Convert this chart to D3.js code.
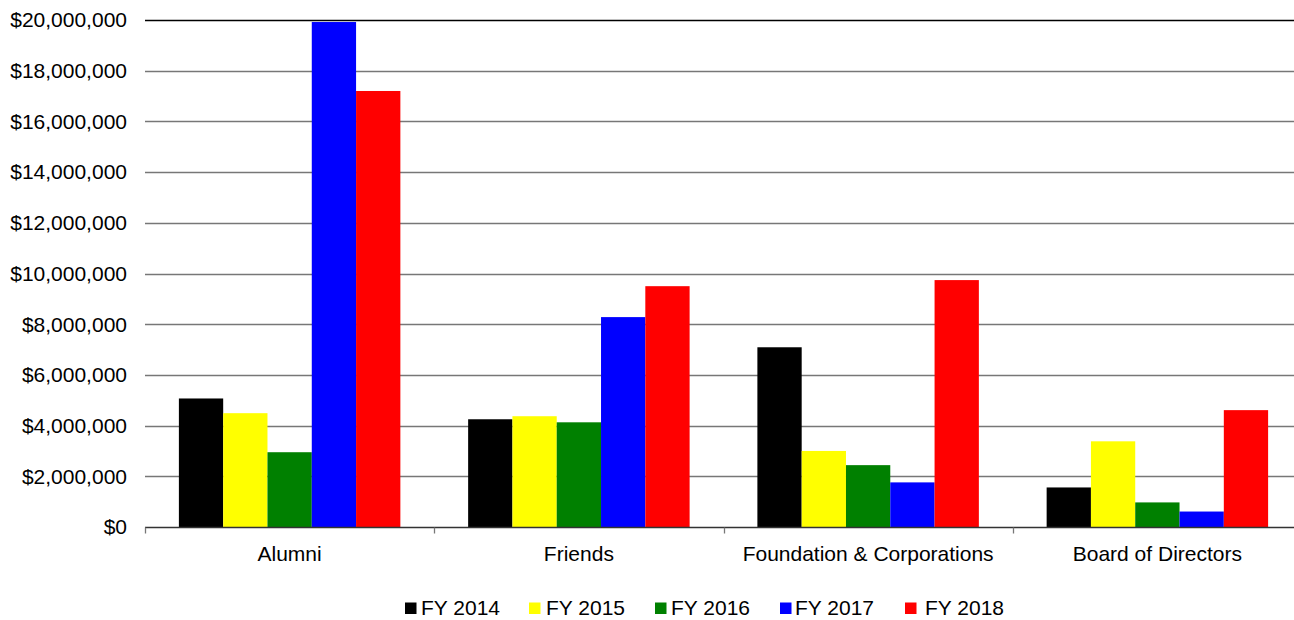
<!DOCTYPE html>
<html>
<head>
<meta charset="utf-8">
<script src="https://cdn.jsdelivr.net/npm/d3@7"></script>
<style>
  body { margin: 0; background: #fff; }
  text { font-family: "Liberation Sans", Arial, sans-serif; fill: #000; }
</style>
</head>
<body>
<div id="chart"></div>
<script>
// data
var categories = ["Alumni", "Friends", "Foundation & Corporations", "Board of Directors"];
var seriesNames = ["FY 2014", "FY 2015", "FY 2016", "FY 2017", "FY 2018"];
var seriesColors = ["#000000", "#ffff00", "#008000", "#0000ff", "#ff0000"];
var fy2014 = [5070000, 4250000, 7090000, 1560000];
var fy2015 = [4490000, 4370000, 3000000, 3380000];
var fy2016 = [2950000, 4130000, 2440000, 970000];
var fy2017 = [19920000, 8280000, 1760000, 610000];
var fy2018 = [17200000, 9500000, 9740000, 4610000];
var yTicks = [0, 2000000, 4000000, 6000000, 8000000, 10000000, 12000000, 14000000, 16000000, 18000000, 20000000];

var seriesValues = [fy2014, fy2015, fy2016, fy2017, fy2018];

var width = 1294, height = 620;
var margin = { top: 20, left: 145, bottom: 93 };
var plotRight = 1302;

var svg = d3.select("#chart").append("svg")
    .attr("width", width)
    .attr("height", height);

// scales
var x0 = d3.scaleBand()
    .domain(categories)
    .range([margin.left, plotRight])
    .paddingInner(0)
    .paddingOuter(0);

var x1 = d3.scaleBand()
    .domain(seriesNames)
    .range([0, x0.bandwidth()])
    .paddingOuter(0.765)
    .paddingInner(0);

var y = d3.scaleLinear()
    .domain([0, 20000000])
    .range([height - margin.bottom, margin.top]);

var fmt = function(v){ return "$" + d3.format(",")(v); };

// gridlines
svg.append("g").selectAll("line.grid")
    .data(yTicks.filter(function(d){ return d > 0; }))
    .enter().append("line")
    .attr("class", "grid")
    .attr("x1", margin.left)
    .attr("x2", plotRight)
    .attr("y1", function(d){ return Math.round(y(d)) + 0.5; })
    .attr("y2", function(d){ return Math.round(y(d)) + 0.5; })
    .attr("stroke", function(d){ return d === 20000000 ? "#000" : "#777"; })
    .attr("stroke-width", 1.3);

// y labels
svg.append("g").selectAll("text.ylab")
    .data(yTicks)
    .enter().append("text")
    .attr("class", "ylab")
    .attr("x", 127)
    .attr("y", function(d){ return y(d); })
    .attr("dy", "0.35em")
    .attr("text-anchor", "end")
    .style("font-size", "21px")
    .text(fmt);

// bars
var groups = svg.append("g").selectAll("g.cat")
    .data(categories)
    .enter().append("g")
    .attr("class", "cat")
    .attr("transform", function(d){ return "translate(" + x0(d) + ",0)"; });

groups.selectAll("rect")
    .data(function(d, i){
        return seriesNames.map(function(s, j){
            return { series: s, value: seriesValues[j][i], color: seriesColors[j] };
        });
    })
    .enter().append("rect")
    .attr("x", function(d){ return x1(d.series); })
    .attr("width", x1.bandwidth())
    .attr("y", function(d){ return y(d.value); })
    .attr("height", function(d){ return y(0) - y(d.value); })
    .attr("fill", function(d){ return d.color; });

// baseline axis
var base = Math.round(y(0)) + 0.5;
svg.append("line")
    .attr("x1", margin.left)
    .attr("x2", plotRight)
    .attr("y1", base)
    .attr("y2", base)
    .attr("stroke", "#333")
    .attr("stroke-width", 1.3);

var bounds = categories.map(function(c){ return x0(c); });
svg.append("g").selectAll("line.tick")
    .data(bounds)
    .enter().append("line")
    .attr("x1", function(d){ return Math.round(d) + 0.5; })
    .attr("x2", function(d){ return Math.round(d) + 0.5; })
    .attr("y1", base)
    .attr("y2", base + 6)
    .attr("stroke", "#777")
    .attr("stroke-width", 1.3);

// category labels
svg.append("g").selectAll("text.xlab")
    .data(categories)
    .enter().append("text")
    .attr("class", "xlab")
    .attr("x", function(d){ return x0(d) + x0.bandwidth() / 2; })
    .attr("y", 561)
    .attr("text-anchor", "middle")
    .style("font-size", "21px")
    .text(function(d){ return d; });

// legend
var legendX = [405, 529, 655, 780, 905];
var legendTextX = [421, 546, 671, 795, 925];
var legend = svg.append("g").selectAll("g.leg")
    .data(seriesNames)
    .enter().append("g")
    .attr("class", "leg");

legend.append("rect")
    .attr("x", function(d, i){ return legendX[i]; })
    .attr("y", 602.5)
    .attr("width", 11.5)
    .attr("height", 11.5)
    .attr("fill", function(d, i){ return seriesColors[i]; });

legend.append("text")
    .attr("x", function(d, i){ return legendTextX[i]; })
    .attr("y", 615)
    .style("font-size", "21px")
    .text(function(d){ return d; });
</script>
</body>
</html>
